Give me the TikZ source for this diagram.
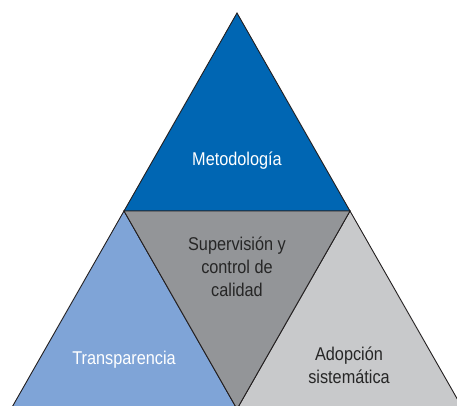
\documentclass[tikz,border=0pt]{standalone}
\usepackage{fontspec}
\setmainfont{Liberation Sans}[FakeStretch=0.88]
\definecolor{topblue}{HTML}{0066B3}
\definecolor{leftblue}{HTML}{7FA4D7}
\definecolor{midgray}{HTML}{939598}
\definecolor{rightgray}{HTML}{C8C9CB}
\definecolor{edge}{HTML}{231F20}
\begin{document}
\begin{tikzpicture}[x=1pt,y=1pt,
  tri/.style={draw=edge,line width=0.9pt,line join=miter},
  lbl/.style={font=\fontsize{18.5}{23}\selectfont,align=center,inner sep=0pt}]
\useasboundingbox (0,0) rectangle (457,405);
\clip (0,0) rectangle (457,405);
\coordinate (apex) at (237,392);
\coordinate (lm) at (124,194);
\coordinate (rm) at (350,194);
\coordinate (bl) at (11,-4);
\coordinate (bm) at (237,-4);
\coordinate (br) at (463,-4);
\fill[white] (0,0) rectangle (457,405);
\filldraw[tri,fill=topblue] (apex) -- (lm) -- (rm) -- cycle;
\filldraw[tri,fill=leftblue] (lm) -- (bl) -- (bm) -- cycle;
\filldraw[tri,fill=rightgray] (rm) -- (bm) -- (br) -- cycle;
\filldraw[tri,fill=midgray] (lm) -- (rm) -- (bm) -- cycle;
\node[lbl,text=white] (met) at (237,244) {Metodología};
\node[lbl,text=black!85] (sup) at (237,138) {Supervisión y\\control de\\calidad};
\node[lbl,text=white] (tra) at (124,45) {Transparencia};
\node[lbl,text=black!85] (ado) at (349,40) {Adopción\\sistemática};
\end{tikzpicture}
\end{document}
